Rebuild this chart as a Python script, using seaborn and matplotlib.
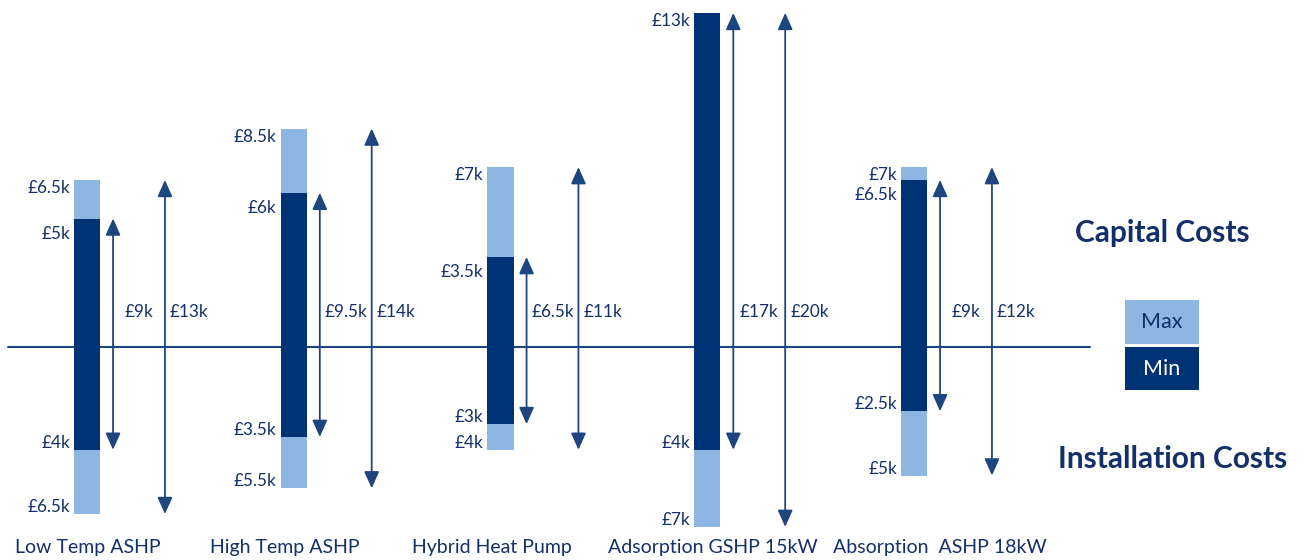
import matplotlib
matplotlib.use("Agg")
import matplotlib.pyplot as plt
import matplotlib.transforms as mtransforms
from matplotlib.patches import Rectangle
import seaborn as sns
import pandas as pd

# Heat pump cost ranges (in £k)
categories = ["Low Temp ASHP", "High Temp ASHP", "Hybrid Heat Pump",
              "Adsorption GSHP 15kW", "Absorption  ASHP 18kW"]
capital_max = [6.5, 8.5, 7, 13, 7]
capital_min = [5, 6, 3.5, 13, 6.5]
install_min = [4, 3.5, 3, 4, 2.5]
install_max = [6.5, 5.5, 4, 7, 5]

NAVY = "#003376"
LIGHT = "#8EB6E3"
TEXT = "#13306A"
LINE = "#1F457F"

# small horizontal nudges (pixels) for the category captions
caption_dx = [1, -9, -9, 6, 26]


def fmt(v):
    return f"£{v:g}k"


sns.set_theme(style="white")
plt.rcParams["font.family"] = ["Lato", "DejaVu Sans"]

df = pd.DataFrame({
    "system": categories,
    "cap_max": capital_max,
    "cap_min": capital_min,
    "inst_min": [-v for v in install_min],
    "inst_max": [-v for v in install_max],
})

fig = plt.figure(figsize=(13.04, 5.6), dpi=100)
ax = fig.add_axes([0, 0, 1, 1])

bw = 0.126
# light (max) bars first, dark (min) bars over them
for col, colour in [("cap_max", LIGHT), ("inst_max", LIGHT),
                    ("cap_min", NAVY), ("inst_min", NAVY)]:
    sns.barplot(data=df, x="system", y=col, order=categories, color=colour,
                width=bw, saturation=1, errorbar=None, linewidth=0, ax=ax)

ax.axhline(0, xmin=8 / 1304, xmax=1090 / 1304, color=LINE, lw=1.5, zorder=0.5)

arrow = dict(arrowstyle="<|-|>,head_length=0.85,head_width=0.38",
             color=LINE, lw=1.3, shrinkA=0, shrinkB=0)
lbl = dict(color=TEXT, fontsize=12.3, textcoords="offset points", va="center")
trans = mtransforms.blended_transform_factory(ax.transData, ax.transAxes)

for i in range(len(categories)):
    x_min = i + 0.126
    x_max = i + 0.377
    ax.annotate("", xy=(x_min, -install_min[i]), xytext=(x_min, capital_min[i]),
                arrowprops=arrow)
    ax.annotate("", xy=(x_max, -install_max[i]), xytext=(x_max, capital_max[i]),
                arrowprops=arrow)

    # totals
    ax.text((x_min + x_max) / 2, 1.35, fmt(capital_min[i] + install_min[i]),
            ha="center", va="center", color=TEXT, fontsize=12.3)
    ax.annotate(fmt(capital_max[i] + install_max[i]), xy=(x_max, 1.35),
                xytext=(3.5, 0), ha="left", **lbl)

    # value labels left of the bar
    left = i - bw / 2
    ax.annotate(fmt(capital_max[i]), xy=(left, capital_max[i]),
                xytext=(-3, -5.8), ha="right", **lbl)
    if capital_min[i] != capital_max[i]:
        ax.annotate(fmt(capital_min[i]), xy=(left, capital_min[i]),
                    xytext=(-3, -11), ha="right", **lbl)
    ax.annotate(fmt(install_min[i]), xy=(left, -install_min[i]),
                xytext=(-3, 5), ha="right", **lbl)
    ax.annotate(fmt(install_max[i]), xy=(left, -install_max[i]),
                xytext=(-3, 5), ha="right", **lbl)

    ax.annotate(categories[i], xy=(i, 13 / 560), xycoords=trans,
                xytext=(caption_dx[i] * 0.72, 0), textcoords="offset points",
                ha="center", va="center", color=TEXT, fontsize=14)

ax.set_xlim(-87 / 206.75, (1304 - 87) / 206.75)
ax.set_ylim(-213 / 25.7, 347 / 25.7)
ax.axis("off")

# legend boxes
fig.add_artist(Rectangle((1125 / 1304, (560 - 344) / 560), 74 / 1304, 44 / 560,
                         transform=fig.transFigure, facecolor=LIGHT, edgecolor="none"))
fig.add_artist(Rectangle((1125 / 1304, (560 - 390) / 560), 74 / 1304, 43 / 560,
                         transform=fig.transFigure, facecolor=NAVY, edgecolor="none"))
fig.text(1162 / 1304, 1 - 322 / 560, "Max", ha="center", va="center",
         color=TEXT, fontsize=15.5)
fig.text(1162 / 1304, 1 - 369 / 560, "Min", ha="center", va="center",
         color="white", fontsize=15.5)

fig.text(1162 / 1304, 1 - 233 / 560, "Capital Costs", ha="center", va="center",
         color=TEXT, fontsize=21.5, fontweight="bold")
fig.text(1173 / 1304, 1 - 459 / 560, "Installation Costs", ha="center",
         va="center", color=TEXT, fontsize=21.5, fontweight="bold")

fig.savefig("out.png", dpi=100)
